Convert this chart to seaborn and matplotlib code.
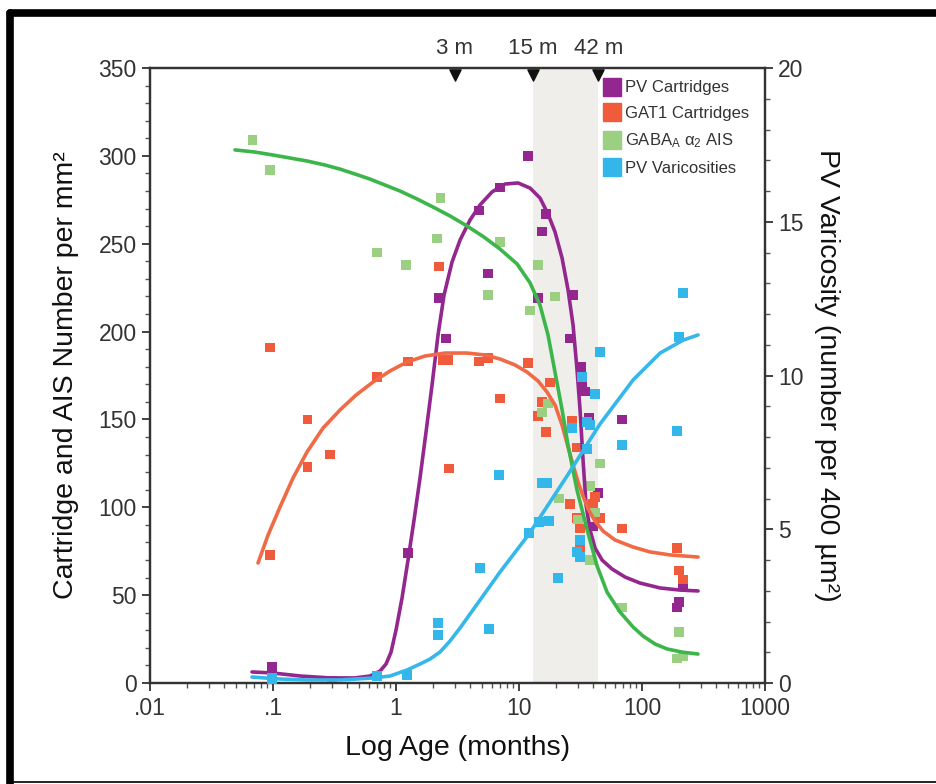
import numpy as np
import pandas as pd
import seaborn as sns
import matplotlib.pyplot as plt
from matplotlib.lines import Line2D
from matplotlib.ticker import MultipleLocator, FixedLocator, FixedFormatter, LogLocator
import matplotlib.transforms as mtransforms

# ---- data (age in months) ----
pv_cart_age = [0.098, 0.3, 1.25, 2.24, 2.55, 4.73, 5.6, 7.0, 11.8, 16.6, 15.4, 14.3,
               27.4, 26, 32, 32.6, 34.4, 37, 69, 43.8, 40, 216, 200, 192]
pv_cart_val = [9, 1, 74, 219, 196, 269, 233, 282, 300, 267, 257, 219,
               221, 196, 180, 171, 166, 151, 150, 108, 89, 56, 46, 43]

gat1_age = [0.095, 0.095, 0.19, 0.19, 0.29, 0.70, 1.25, 2.24, 2.4, 2.65, 2.7, 4.73, 5.6,
            7.0, 11.8, 17.8, 15.4, 14.3, 16.6, 27, 29.6, 26, 41.5, 40, 45.5, 29.6,
            31.4, 31.4, 68.7, 192, 200, 216]
gat1_val = [191, 73, 150, 123, 130, 174, 183, 237, 184, 184, 122, 183, 185,
            162, 182, 171, 160, 152, 143, 149, 134, 102, 106, 102, 94, 94,
            88, 76, 88, 77, 64, 59]

gaba_age = [0.068, 0.095, 0.70, 1.2, 2.15, 2.3, 5.6, 7.0, 12.3, 14.3, 19.6, 15.4, 17.2,
            21.2, 30, 37.7, 41.5, 37.7, 45.5, 68.7, 200, 192, 215]
gaba_val = [309, 292, 245, 238, 253, 276, 221, 251, 212, 238, 220, 154, 159,
            105, 93, 112, 97, 70, 125, 43, 29, 14, 15]

# PV varicosities, right axis (number per 400 um2)
var_age = [0.098, 0.098, 0.70, 1.23, 2.2, 2.2, 4.8, 6.9, 5.7, 12.0, 14.5, 17.5, 15.4,
           16.9, 20.7, 45.5, 41.5, 32.6, 27, 35.8, 37.7, 35.8, 31.4, 29.6, 31.4,
           68.7, 216, 200, 192]
var_val = [0.16, 0.03, 0.23, 0.26, 1.95, 1.56, 3.74, 6.76, 1.76, 4.88, 5.24, 5.27, 6.5,
           6.5, 3.41, 10.76, 9.4, 9.95, 8.3, 8.5, 8.4, 7.6, 4.65, 4.26, 4.1,
           7.74, 12.7, 11.25, 8.2]

# fitted curves
pv_fit_age = [0.0675, 0.1, 0.166, 0.291, 0.464, 0.615, 0.741, 0.829, 0.911, 1.0, 1.119,
              1.252, 1.401, 1.567, 1.754, 1.962, 2.195, 2.456, 2.853, 3.314, 3.996,
              4.819, 6.034, 7.694, 9.81, 12.29, 14.82, 17.21, 19.62, 22.37, 25.03,
              27.48, 29.62, 31.33, 33.14, 35.05, 37.77, 41.49, 47.3, 57.0, 72.8,
              96.3, 140.1, 203.7, 285.2]
pv_fit_val = [6.3, 5.7, 4.0, 2.9, 2.9, 4.0, 6.8, 10.8, 17.6, 30.2, 48.4,
              70.0, 92.8, 116.7, 142.9, 169.6, 198.1, 220.8, 239.6, 252.1, 263.5,
              272.1, 279.5, 284.0, 284.6, 281.7, 276.0, 266.9, 256.7, 241.9, 223.7,
              203.8, 178.1, 155.4, 126.9, 101.3, 87.1, 76.8, 70.0, 64.9, 60.3,
              56.9, 54.1, 52.9, 52.4]

gat1_fit_age = [0.0755, 0.0911, 0.114, 0.1455, 0.189, 0.255, 0.3505, 0.473, 0.650, 0.894,
                1.228, 1.721, 2.502, 3.777, 5.29, 7.006, 9.28, 11.61, 14.27, 16.89,
                19.62, 22.37, 25.03, 27.48, 30.18, 33.14, 36.39, 41.49, 48.19, 60.34,
                84.5, 116.1, 168.9, 285.2]
gat1_fit_val = [68.3, 84.2, 100.2, 116.7, 131.5, 145.1, 155.4, 163.9, 171.3, 177.6,
                182.7, 186.1, 187.8, 187.8, 186.7, 184.4, 181.0, 177.0, 171.9, 165.6,
                158.2, 146.8, 134.3, 124.1, 114.4, 106.4, 99.0, 92.2, 86.5, 81.4,
                77.4, 74.6, 72.9, 71.7]

gaba_fit_age = [0.0491, 0.0714, 0.1, 0.1374, 0.189, 0.265, 0.35, 0.464, 0.615, 0.814,
                1.078, 1.48, 2.0, 2.75, 3.78, 5.19, 7.0, 9.64, 12.3, 14.8, 17.2, 19.6,
                22.4, 25.0, 29.6, 35.8, 43.1, 51.9, 66.2, 84.5, 102, 127.6, 159.7,
                211, 285]
gaba_fit_val = [303.4, 302.2, 300.5, 298.8, 297.1, 294.8, 292.5, 289.7, 286.8, 283.4,
                280.0, 275.5, 270.9, 265.8, 260.1, 253.8, 247.0, 238.5, 227.7, 215.1,
                198.1, 177.0, 155.4, 135.5, 109.8, 87.1, 66.6, 51.8, 40.4, 31.9, 26.7,
                22.2, 19.4, 17.6, 16.5]

var_fit_age = [0.0675, 0.114, 0.189, 0.3505, 0.650, 0.894, 1.228, 1.567, 1.89, 2.279,
               2.748, 3.314, 3.996, 4.819, 7.006, 12.06, 24.56, 45.52, 84.5, 140.1,
               215.4, 285.2]
var_fit_val = [0.195, 0.13, 0.098, 0.098, 0.163, 0.228, 0.423, 0.618, 0.78, 1.008,
               1.366, 1.789, 2.244, 2.699, 3.610, 4.846, 6.732, 8.423, 9.854, 10.73,
               11.15, 11.32]

top_marker_age = [3, 13, 44]
top_marker_labels = ['3 m', '15 m', '42 m']
shade_span = (13, 44)

xtick_vals = [0.01, 0.1, 1, 10, 100, 1000]
xtick_labels = ['.01', '.1', '1', '10', '100', '1000']

series_names = ['PV Cartridges', 'GAT1 Cartridges', 'GABA$_\\mathregular{A}$ α$_\\mathregular{2}$ AIS',
                'PV Varicosities']
point_colors = ['#93278f', '#ef5b3b', '#9bd083', '#33b6ea']
line_colors = ['#93278f', '#f06a45', '#3cb64a', '#35b7ea']

# ---- style ----
sns.set_style('ticks')
plt.rcParams['font.family'] = ['Liberation Sans', 'DejaVu Sans']
plt.rcParams['mathtext.default'] = 'regular'
txt = '#333333'

fig = plt.figure(figsize=(9.37, 7.84), dpi=100)
ax = fig.add_axes([0.1601, 0.1288, 0.6564, 0.7844])
ax.set_xscale('log')
ax.axvspan(*shade_span, color='#efeeea', lw=0, zorder=0)

left = pd.concat([
    pd.DataFrame({'age': pv_cart_age, 'val': pv_cart_val, 'series': series_names[0]}),
    pd.DataFrame({'age': gat1_age, 'val': gat1_val, 'series': series_names[1]}),
    pd.DataFrame({'age': gaba_age, 'val': gaba_val, 'series': series_names[2]}),
])
pal = dict(zip(series_names, point_colors))
sns.scatterplot(data=left, x='age', y='val', hue='series', palette=pal, marker='s',
                s=48, linewidth=0, legend=False, ax=ax, zorder=3)

for fa, fv, c in [(pv_fit_age, pv_fit_val, line_colors[0]),
                  (gat1_fit_age, gat1_fit_val, line_colors[1]),
                  (gaba_fit_age, gaba_fit_val, line_colors[2])]:
    sns.lineplot(x=fa, y=fv, color=c, lw=2.6, estimator=None, ax=ax, zorder=4)

ax.set_xlim(0.01, 1000)
ax.set_ylim(0, 350)

ax2 = ax.twinx()
sns.scatterplot(x=var_age, y=var_val, color=point_colors[3], marker='s', s=48,
                linewidth=0, ax=ax2, zorder=3)
sns.lineplot(x=var_fit_age, y=var_fit_val, color=line_colors[3], lw=2.6,
             estimator=None, ax=ax2, zorder=4)
ax2.set_ylim(0, 20)
ax2.set_xlim(0.01, 1000)

# ticks
ax.xaxis.set_major_locator(FixedLocator(xtick_vals))
ax.xaxis.set_major_formatter(FixedFormatter(xtick_labels))
ax.xaxis.set_minor_locator(LogLocator(base=10, subs=np.arange(2, 10), numticks=20))
ax.yaxis.set_major_locator(MultipleLocator(50))
ax.yaxis.set_minor_locator(MultipleLocator(10))
ax2.yaxis.set_major_locator(MultipleLocator(5))
ax2.yaxis.set_minor_locator(MultipleLocator(1))

for a in (ax, ax2):
    for s in a.spines.values():
        s.set_visible(True)
        s.set_color('#333333')
        s.set_linewidth(1.6)
    a.tick_params(which='major', direction='out', length=6, width=1.3, colors='#333333',
                  labelsize=16.5, labelcolor=txt)
    a.tick_params(which='minor', direction='out', length=3.5, width=1.0, colors='#555555')
ax.tick_params(axis='y', which='both', right=False)
ax.tick_params(axis='x', pad=4)

ax.set_xlabel('Log Age (months)', fontsize=20.5, labelpad=11, color='#111111')
ax.set_ylabel('Cartridge and AIS Number per mm²', fontsize=20.5, labelpad=14, color='#111111')
ax2.set_ylabel('PV Varicosity (number per 400 µm²)', fontsize=20.5, rotation=270,
               labelpad=26, color='#111111')

# top age markers
trans = mtransforms.blended_transform_factory(ax2.transData, ax2.transAxes)
ax2.scatter(top_marker_age, [0.988] * len(top_marker_age), marker='v', s=65,
            color='#111111', transform=trans, clip_on=False, zorder=6)
for a, lab in zip(top_marker_age, top_marker_labels):
    ax2.text(a, 1.015, lab, transform=trans, ha='center', va='bottom',
             fontsize=16, color=txt)

# legend
handles = [Line2D([], [], marker='s', ls='', color=c, markersize=13) for c in point_colors]
leg = ax2.legend(handles, series_names, loc='upper left', bbox_to_anchor=(0.7375, 0.980),
                 frameon=False, fontsize=12, handletextpad=0.3, labelspacing=0.63,
                 handlelength=1.0, borderaxespad=0, borderpad=0)
for t in leg.get_texts():
    t.set_color(txt)

# outer black frame
fig.add_artist(Line2D([0.0112, 1.0], [0.9828, 0.9828], transform=fig.transFigure,
                      color='black', lw=5.5, solid_capstyle='round'))
fig.add_artist(Line2D([0.0112, 0.0112], [0.9828, 0.0], transform=fig.transFigure,
                      color='black', lw=5.5, solid_capstyle='round'))
fig.add_artist(Line2D([0.0112, 1.0], [0.0026, 0.0026], transform=fig.transFigure,
                      color='black', lw=1.2))

fig.savefig('out.png', dpi=100)
